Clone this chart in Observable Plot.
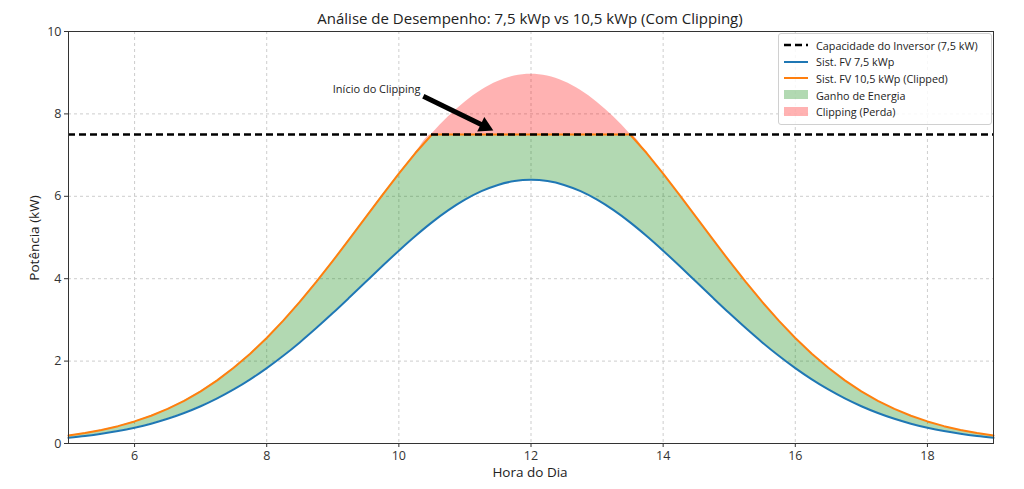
<!DOCTYPE html>
<html><head><meta charset="utf-8">
<script src="https://cdn.jsdelivr.net/npm/d3@7"></script>
<script src="https://cdn.jsdelivr.net/npm/@observablehq/plot@0.6"></script>
<style>
body{margin:0;background:#fff;font-family:"Open Sans",Roboto,sans-serif;}
#wrap{position:relative;width:1024px;height:489px;}
.t{position:absolute;color:#222;white-space:nowrap;}
#legend{position:absolute;left:778px;top:33px;width:214px;height:92px;border:1px solid #d0d0d0;border-radius:3px;background:rgba(255,255,255,0.85);box-sizing:border-box;font-size:10.8px;color:#222;padding-top:3px;}
.row{display:flex;align-items:center;height:16.6px;}
.row svg{margin-left:5px;margin-right:8px;}
</style></head>
<body><div id="wrap"></div>
<script>
const hours = [5,5.25,5.5,5.75,6,6.25,6.5,6.75,7,7.25,7.5,7.75,8,8.25,8.5,8.75,9,9.25,9.5,9.75,10,10.25,10.5,10.75,11,11.25,11.5,11.75,12,12.25,12.5,12.75,13,13.25,13.5,13.75,14,14.25,14.5,14.75,15,15.25,15.5,15.75,16,16.25,16.5,16.75,17,17.25,17.5,17.75,18,18.25,18.5,18.75,19];
const sys75 = [0.138,0.181,0.235,0.301,0.383,0.481,0.600,0.741,0.905,1.095,1.312,1.557,1.830,2.130,2.454,2.801,3.165,3.542,3.925,4.307,4.680,5.036,5.367,5.663,5.918,6.124,6.276,6.369,6.400,6.369,6.276,6.124,5.918,5.663,5.367,5.036,4.680,4.307,3.925,3.542,3.165,2.801,2.454,2.130,1.830,1.557,1.312,1.095,0.905,0.741,0.600,0.481,0.383,0.301,0.235,0.181,0.138];
const sys105Raw = [0.193,0.253,0.329,0.421,0.536,0.673,0.840,1.037,1.267,1.533,1.837,2.180,2.562,2.982,3.436,3.921,4.431,4.959,5.495,6.030,6.552,7.050,7.514,7.928,8.285,8.574,8.786,8.917,8.960,8.917,8.786,8.574,8.285,7.928,7.514,7.050,6.552,6.030,5.495,4.959,4.431,3.921,3.436,2.982,2.562,2.180,1.837,1.533,1.267,1.037,0.840,0.673,0.536,0.421,0.329,0.253,0.193];
const sys105Clipped = [0.193,0.253,0.329,0.421,0.536,0.673,0.840,1.037,1.267,1.533,1.837,2.180,2.562,2.982,3.436,3.921,4.431,4.959,5.495,6.030,6.552,7.050,7.5,7.5,7.5,7.5,7.5,7.5,7.5,7.5,7.5,7.5,7.5,7.5,7.5,7.050,6.552,6.030,5.495,4.959,4.431,3.921,3.436,2.982,2.562,2.180,1.837,1.533,1.267,1.037,0.840,0.673,0.536,0.421,0.329,0.253,0.193];
const inverterCap = 7.5;
const xTicks = [6,8,10,12,14,16,18];
const yTicks = [0,2,4,6,8,10];
const annotation = {text:"Início do Clipping", tx:9.0, ty:8.5, x1:10.37, y1:8.43, x2:11.43, y2:7.6};

const rows = hours.map((h,i)=>({h, a:sys75[i], raw:sys105Raw[i], clip:sys105Clipped[i]}));

const W=1024,H=489,ML=68,MR=31,MT=31,MB=46;
const X=[5,19], Y=[0,10];
// pixel helpers derived from the same scale definitions (used for the arrowhead orientation)
const px = d3.scaleLinear(X,[ML,W-MR]), py = d3.scaleLinear(Y,[H-MB,MT]);
const tx1=px(annotation.x1), ty1=py(annotation.y1), tx2=px(annotation.x2), ty2=py(annotation.y2);
const ang=Math.atan2(ty2-ty1, tx2-tx1);
const headR=6, apex=2*Math.sqrt(Math.PI*headR*headR/(3*Math.sqrt(3)));
const head=[{x:px.invert(tx2-Math.cos(ang)*apex), y:py.invert(ty2-Math.sin(ang)*apex)}];
const shaft=[{x1:annotation.x1,y1:annotation.y1,x2:px.invert(tx2-Math.cos(ang)*apex*1.2),y2:py.invert(ty2-Math.sin(ang)*apex*1.2)}];

const chart = Plot.plot({
  width:W, height:H,
  marginLeft:ML, marginRight:MR, marginTop:MT, marginBottom:MB,
  style:{fontFamily:"'Open Sans', sans-serif", fontSize:"12.5px", color:"#333", background:"transparent"},
  x:{domain:X},
  y:{domain:Y},
  marks:[
    Plot.gridX(xTicks,{stroke:"#c8c8c8", strokeOpacity:0.9, strokeDasharray:"3,3"}),
    Plot.gridY(yTicks,{stroke:"#c8c8c8", strokeOpacity:0.9, strokeDasharray:"3,3"}),
    Plot.areaY(rows,{x:"h", y1:"a", y2:"clip", fill:"#008000", fillOpacity:0.3, curve:"linear"}),
    Plot.areaY(rows,{x:"h", y1:"clip", y2:"raw", fill:"#ff0000", fillOpacity:0.3, curve:"monotone-x"}),
    Plot.lineY(rows,{x:"h", y:"a", stroke:"#1f77b4", strokeWidth:2, curve:"monotone-x"}),
    Plot.lineY(rows,{x:"h", y:"clip", stroke:"#ff7f0e", strokeWidth:2, curve:"linear"}),
    Plot.ruleY([inverterCap],{stroke:"#000", strokeWidth:2.5, strokeDasharray:"7,4"}),
    Plot.link(shaft,{x1:"x1", y1:"y1", x2:"x2", y2:"y2", stroke:"#000", strokeWidth:5}),
    Plot.dot(head,{x:"x", y:"y", symbol:"triangle", r:headR, fill:"#000", stroke:"none", rotate:ang*180/Math.PI+90}),
    Plot.text([annotation],{x:"tx", y:"ty", text:"text", textAnchor:"start", lineAnchor:"bottom", fontSize:11, fill:"#222"}),
    Plot.axisX({ticks:xTicks, tickSize:4, label:null, tickPadding:4, stroke:"#333"}),
    Plot.axisY({ticks:yTicks, tickSize:4, label:null, tickPadding:3, stroke:"#333"}),
    Plot.frame({stroke:"#333", strokeWidth:1})
  ]
});
const wrap = document.getElementById("wrap");
wrap.appendChild(chart);

function addText(txt, css){const d=document.createElement("div");d.className="t";d.textContent=txt;Object.assign(d.style,css);wrap.appendChild(d);return d;}
addText("Análise de Desempenho: 7,5 kWp vs 10,5 kWp (Com Clipping)",{left:"530px",top:"8px",transform:"translateX(-50%)",fontSize:"15px"});
addText("Hora do Dia",{left:"530px",top:"463px",transform:"translateX(-50%)",fontSize:"13.5px"});
addText("Potência (kW)",{left:"34px",top:"238px",transform:"translate(-50%,-50%) rotate(-90deg)",fontSize:"13.5px"});

const legendItems = [
  {label:"Capacidade do Inversor (7,5 kW)", type:"dash", color:"#000"},
  {label:"Sist. FV 7,5 kWp", type:"line", color:"#1f77b4"},
  {label:"Sist. FV 10,5 kWp (Clipped)", type:"line", color:"#ff7f0e"},
  {label:"Ganho de Energia", type:"patch", color:"rgba(0,128,0,0.3)"},
  {label:"Clipping (Perda)", type:"patch", color:"rgba(255,0,0,0.3)"}
];
const lg = document.createElement("div"); lg.id="legend";
for(const it of legendItems){
  const r=document.createElement("div"); r.className="row";
  let sw;
  if(it.type==="dash") sw=`<line x1="0" y1="6" x2="24" y2="6" stroke="${it.color}" stroke-width="2.5" stroke-dasharray="7,4"/>`;
  else if(it.type==="line") sw=`<line x1="0" y1="6" x2="24" y2="6" stroke="${it.color}" stroke-width="2"/>`;
  else sw=`<rect x="0" y="1" width="24" height="9" fill="${it.color}"/>`;
  r.innerHTML=`<svg width="24" height="12">${sw}</svg><span>${it.label}</span>`;
  lg.appendChild(r);
}
wrap.appendChild(lg);
</script></body></html>
